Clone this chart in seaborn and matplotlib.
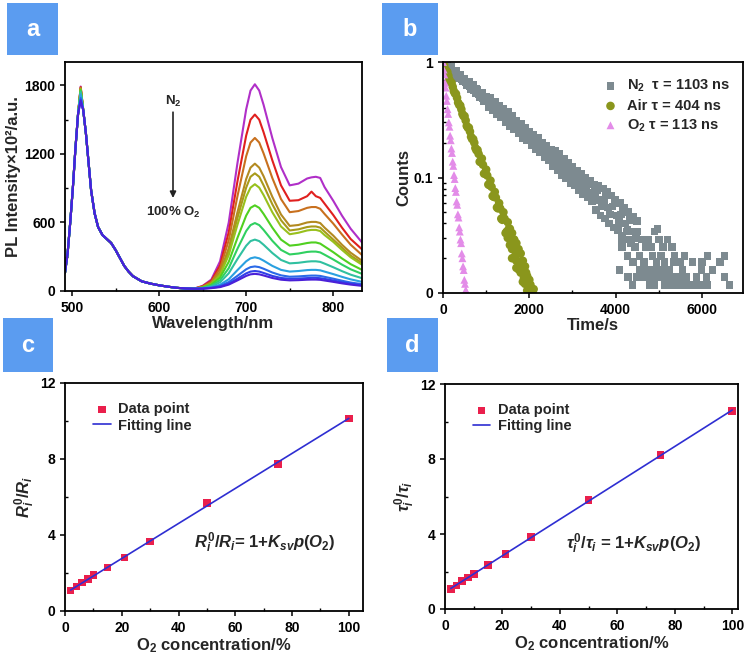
import numpy as np
import pandas as pd
import seaborn as sns
import matplotlib
matplotlib.use("Agg")
import matplotlib.pyplot as plt
from matplotlib.patches import Rectangle
from matplotlib.ticker import MultipleLocator, NullFormatter, LogLocator

# ---------------- panel a : PL spectra, N2 -> 100% O2 ----------------
left_wl = [492, 495, 498, 501, 504, 507, 510, 513, 516, 519, 522, 526, 530, 535, 540,
           545, 550, 555, 560, 565, 570, 580, 590, 600, 610, 620, 630, 640]
left_pl = [160, 330, 600, 900, 1250, 1550, None, 1580, 1380, 1130, 880, 680, 560, 490, 455,
           420, 360, 290, 220, 170, 130, 85, 65, 50, 38, 28, 22, 20]
green_peak = [1790, 1785, 1780, 1775, 1770, 1765, 1760, 1750, 1740, 1720, 1690, 1675, 1665]

right_wl = [650, 660, 670, 680, 690, 700, 705, 710, 715, 720, 730, 740, 750, 760, 770,
            775, 780, 785, 790, 800, 810, 820, 833]
red_band = [
    [45, 100, 260, 600, 1120, 1590, 1755, 1810, 1755, 1630, 1340, 1085, 925, 940, 985, 995, 1000, 990, 910, 790, 660, 545, 425],
    [42, 90, 225, 515, 960, 1360, 1500, 1545, 1500, 1390, 1145, 925, 790, 795, 830, 870, 830, 815, 765, 665, 555, 455, 365],
    [38, 80, 195, 445, 830, 1180, 1300, 1340, 1300, 1205, 990, 805, 690, 700, 728, 735, 735, 720, 675, 590, 495, 405, 315],
    [35, 70, 165, 375, 690, 980, 1080, 1115, 1080, 1005, 825, 670, 570, 578, 600, 605, 605, 595, 555, 485, 405, 335, 265],
    [33, 66, 155, 345, 640, 905, 1000, 1030, 1000, 925, 760, 620, 530, 540, 560, 565, 565, 555, 520, 450, 380, 310, 245],
    [32, 62, 140, 315, 580, 825, 905, 935, 905, 840, 690, 565, 497, 510, 530, 535, 535, 525, 490, 430, 360, 295, 230],
    [30, 55, 118, 255, 465, 660, 728, 750, 728, 675, 555, 450, 397, 405, 420, 425, 425, 415, 390, 340, 285, 235, 185],
    [28, 48, 95, 200, 370, 525, 577, 595, 577, 535, 440, 360, 320, 328, 342, 345, 345, 338, 318, 276, 231, 190, 150],
    [26, 40, 76, 155, 280, 396, 437, 450, 437, 405, 333, 272, 242, 247, 257, 260, 260, 255, 240, 208, 174, 143, 112],
    [24, 33, 55, 103, 183, 260, 286, 295, 286, 266, 220, 185, 170, 175, 183, 185, 185, 181, 170, 148, 124, 102, 80],
    [22, 29, 44, 78, 133, 190, 209, 215, 209, 195, 162, 137, 125, 128, 133, 135, 135, 132, 124, 108, 90, 74, 60],
    [21, 27, 38, 64, 108, 154, 170, 175, 170, 158, 132, 114, 107, 109, 113, 115, 115, 112, 106, 92, 77, 64, 52],
    [20, 25, 34, 56, 93, 132, 146, 150, 146, 136, 114, 99, 93, 95, 99, 100, 100, 98, 92, 80, 67, 56, 45],
]
spec_colors = ["#b02fc8", "#e0201e", "#c8701e", "#b38a20", "#a89a1a", "#98c01c", "#50d020",
               "#30d060", "#30c0a0", "#2aa0e0", "#2a6ae8", "#3040e8", "#4a20d8"]

# ---------------- panel b : lifetime decays ----------------
n2_t = [0, 50, 100, 150, 200, 250, 300, 350, 400, 450, 500, 550, 600, 650, 700, 750, 800, 850, 900, 950, 1000,
        1050, 1100, 1150, 1200, 1250, 1300, 1350, 1400, 1450, 1500, 1550, 1600, 1650, 1700, 1750, 1800, 1850, 1900, 1950, 2000,
        2050, 2100, 2150, 2200, 2250, 2300, 2350, 2400, 2450, 2500,
        2550, 2600, 2650, 2700, 2750, 2800, 2850, 2900, 2950, 3000, 3050, 3100, 3150, 3200, 3250, 3300, 3350, 3400, 3450, 3500,
        3550, 3600, 3650, 3700, 3750, 3800, 3850, 3900, 3950, 4000, 4050, 4100, 4150, 4200, 4250, 4300, 4350, 4400, 4450, 4500,
        25, 75, 125, 175, 225, 275, 325, 375, 425, 475, 525, 575, 625, 675, 725, 775, 825, 875, 925, 975,
        1025, 1075, 1125, 1175, 1225, 1275, 1325, 1375, 1425, 1475, 1525, 1575, 1625, 1675, 1725, 1775, 1825, 1875, 1925, 1975,
        2025, 2125, 2225, 2325, 2425, 2525, 2625, 2725, 2825, 2925, 3025, 3125, 3225, 3325, 3425, 3525, 3625, 3725, 3825,
        3925, 4025, 4125, 4225, 4325, 4425,
        2075, 2175, 2275, 2375, 2475, 2575, 2675, 2775, 2875, 2975, 3075, 3175, 3275, 3375, 3475, 3575, 3675, 3775, 3875,
        3975, 4075, 4175, 4275, 4375, 4475,
        4390, 4800, 4900, 5150, 5250, 5350, 5450, 5550, 5650, 5750, 5850, 5950, 6130, 6640,
        4280, 4500, 4600, 4700, 4800, 4900, 5000, 5100, 5200, 5300, 5400, 5500, 5640, 5870, 6100, 6520,
        4090, 4560, 4660, 4760, 4860, 4960, 5060, 5160, 5250, 5550, 5990, 6240,
        4400, 4650, 4950, 5130, 5350, 5500, 5780, 6000, 6420,
        4277, 4550, 4850, 5050, 5364, 5595, 6127, 6520,
        4150, 4450, 4700, 4832, 5100, 5300,
        4139, 4350, 4600, 4750, 5000, 5202,
        4250, 4500, 4900, 4971]
n2_y = [1.00, 0.93, 0.965, 0.86, 0.90, 0.79, 0.84, 0.73, 0.78, 0.68, 0.72, 0.63, 0.67, 0.58, 0.63, 0.54, 0.58, 0.50, 0.54, 0.46, 0.50,
        0.41, 0.49, 0.38, 0.45, 0.35, 0.42, 0.33, 0.39, 0.30, 0.37, 0.28, 0.34, 0.26, 0.31, 0.24, 0.29, 0.22, 0.27, 0.21, 0.25,
        0.19, 0.235, 0.175, 0.22, 0.165, 0.20, 0.15, 0.19, 0.14, 0.175,
        0.125, 0.17, 0.115, 0.16, 0.105, 0.145, 0.098, 0.135, 0.09, 0.125, 0.085, 0.115, 0.078, 0.108, 0.072, 0.10, 0.067, 0.093, 0.062, 0.087,
        0.052, 0.085, 0.047, 0.08, 0.044, 0.075, 0.04, 0.07, 0.037, 0.064, 0.035, 0.06, 0.031, 0.055, 0.029, 0.05, 0.027, 0.046, 0.025, 0.042,
        0.97, 0.95, 0.90, 0.88, 0.83, 0.82, 0.77, 0.76, 0.715, 0.71, 0.665, 0.66, 0.615, 0.61, 0.57, 0.59, 0.53, 0.525, 0.49, 0.49,
        0.455, 0.455, 0.42, 0.42, 0.39, 0.39, 0.36, 0.36, 0.335, 0.34, 0.31, 0.31, 0.29, 0.29, 0.27, 0.265, 0.25, 0.25, 0.23, 0.232,
        0.215, 0.21, 0.185, 0.18, 0.16, 0.155, 0.138, 0.133, 0.118, 0.115, 0.10, 0.099, 0.087, 0.085, 0.074, 0.075, 0.064, 0.064, 0.055,
        0.056, 0.047, 0.048, 0.04, 0.043, 0.034,
        0.20, 0.21, 0.17, 0.185, 0.15, 0.158, 0.125, 0.14, 0.105, 0.12, 0.092, 0.105, 0.08, 0.092, 0.066, 0.078, 0.056, 0.07, 0.048,
        0.06, 0.041, 0.052, 0.035, 0.046, 0.03,
        0.0117, 0.0117, 0.0117, 0.0117, 0.0117, 0.0117, 0.0117, 0.0117, 0.0117, 0.0117, 0.0117, 0.0117, 0.0117, 0.0117,
        0.0137, 0.0137, 0.0137, 0.0137, 0.0137, 0.0137, 0.0137, 0.0137, 0.0137, 0.0137, 0.0137, 0.0137, 0.0137, 0.0137, 0.0137, 0.0137,
        0.0158, 0.0158, 0.0158, 0.0158, 0.0158, 0.0158, 0.0158, 0.0158, 0.0158, 0.0158, 0.0158, 0.0158,
        0.0185, 0.0185, 0.0185, 0.0185, 0.0185, 0.0185, 0.0185, 0.0185, 0.0185,
        0.021, 0.021, 0.021, 0.021, 0.021, 0.021, 0.021, 0.021,
        0.025, 0.025, 0.025, 0.025, 0.025, 0.025,
        0.029, 0.029, 0.029, 0.029, 0.029, 0.029,
        0.034, 0.034, 0.034, 0.036]

air_t = [0, 50, 100, 150, 200, 250, 300, 350, 400, 450, 500, 550, 600, 650, 700, 750, 800, 850, 900, 950, 1000,
         1050, 1100, 1150, 1200, 1250, 1300, 1350, 1400, 1450, 1500, 1550, 1600, 1650, 1700, 1750, 1800, 1850, 1900,
         1950, 2000, 2050, 2100,
         25, 75, 125, 175, 225, 275, 325, 375, 425, 475, 525, 575, 625, 675, 725, 775, 825, 875, 925, 975,
         1025, 1075, 1125, 1175, 1225, 1275, 1325, 1375, 1425, 1475, 1525, 1575, 1625, 1675, 1725, 1775, 1825, 1875,
         1925, 1975, 2025, 2075,
         1500, 1550, 1600, 1650, 1700, 1750, 1800, 1850, 1900, 2000, 1950, 1700, 1600]
air_y = [1.0, 0.87, 0.82, 0.70, 0.66, 0.56, 0.53, 0.445, 0.42, 0.355, 0.34, 0.28, 0.27, 0.225, 0.215, 0.18, 0.173, 0.137,
         0.146, 0.108, 0.117, 0.087, 0.094, 0.069, 0.075, 0.055, 0.06, 0.044, 0.05, 0.033, 0.041, 0.026, 0.033, 0.02,
         0.027, 0.016, 0.022, 0.0125, 0.017, 0.0105, 0.013, 0.0102, 0.0108,
         0.95, 0.84, 0.76, 0.67, 0.61, 0.535, 0.49, 0.425, 0.39, 0.34, 0.312, 0.27, 0.25, 0.215, 0.2, 0.172, 0.16, 0.136,
         0.129, 0.108, 0.104, 0.086, 0.083, 0.068, 0.067, 0.054, 0.054, 0.043, 0.044, 0.034, 0.036, 0.027, 0.029, 0.021,
         0.024, 0.017, 0.019, 0.0135, 0.015, 0.011, 0.0118, 0.0103,
         0.03, 0.036, 0.024, 0.029, 0.019, 0.024, 0.015, 0.019, 0.012, 0.0105, 0.014, 0.0165, 0.02]

o2_t = [0, 15, 30, 45, 60, 75, 90, 105, 120, 135, 150, 165, 180, 195, 210, 225, 240, 255, 270, 285, 300,
        315, 330, 345, 360, 375, 390, 405, 420, 435, 450, 465, 480, 495, 510, 525, 540]
o2_y = [1.0, 0.86, 0.78, 0.66, 0.60, 0.51, 0.46, 0.39, 0.355, 0.30, 0.275, 0.23, 0.21, 0.178, 0.163, 0.137, 0.126,
        0.105, 0.097, 0.081, 0.075, 0.062, 0.058, 0.048, 0.045, 0.037, 0.034, 0.029, 0.027, 0.022, 0.02, 0.017,
        0.0158, 0.013, 0.012, 0.0106, 0.0104]

# ---------------- panels c / d : Stern-Volmer ----------------
o2_conc = [2, 4, 6, 8, 10, 15, 21, 30, 50, 75, 100]
ratio_R = [1.07, 1.28, 1.49, 1.67, 1.88, 2.28, 2.81, 3.65, 5.70, 7.74, 10.14]
ratio_tau = [1.08, 1.26, 1.49, 1.67, 1.87, 2.35, 2.93, 3.84, 5.81, 8.21, 10.56]

sns.set_theme(style="ticks")
plt.rcParams["font.family"] = ["Liberation Sans", "DejaVu Sans"]
plt.rcParams.update({
    "font.weight": "bold", "axes.labelweight": "bold",
    "mathtext.fontset": "custom",
    "mathtext.rm": "Liberation Sans:bold",
    "mathtext.bf": "Liberation Sans:bold",
    "mathtext.it": "Liberation Sans:bold:italic",
    "axes.linewidth": 1.3, "axes.edgecolor": "black",
    "xtick.color": "black", "ytick.color": "black",
    "xtick.major.width": 1.1, "ytick.major.width": 1.1,
    "xtick.minor.width": 1.0, "ytick.minor.width": 1.0,
    "xtick.major.size": 3.5, "ytick.major.size": 3.5,
    "xtick.minor.size": 2.0, "ytick.minor.size": 2.0,
})

fig = plt.figure(figsize=(7.5, 6.56), dpi=100)
W, H = 750.0, 656.0


def px_axes(l, t, r, b):
    return fig.add_axes([l / W, 1 - b / H, (r - l) / W, (b - t) / H])


def style(ax):
    for s in ax.spines.values():
        s.set_visible(True)
        s.set_linewidth(1.3)
    ax.tick_params(which="both", top=False, right=False, labelsize=10)
    ax.tick_params(which="major", direction="out")
    ax.tick_params(which="minor", direction="in")


def tag(l, t, r, b, letter):
    fig.add_artist(Rectangle((l / W, 1 - b / H), (r - l) / W, (b - t) / H,
                             transform=fig.transFigure, facecolor="#5b9cf0", edgecolor="none"))
    fig.text((l + r) / 2 / W, 1 - (t + b) / 2 / H, letter, color="white", fontsize=17,
             fontweight="bold", ha="center", va="center")


# panel a
ax = px_axes(65, 62, 362, 291)
rows = []
for i, (pk, rb) in enumerate(zip(green_peak, red_band)):
    vals = [pk if v is None else v for v in left_pl] + rb
    for w, v in zip(left_wl + right_wl, vals):
        rows.append({"wl": w, "pl": v, "curve": i})
spec = pd.DataFrame(rows)
sns.lineplot(data=spec, x="wl", y="pl", hue="curve", palette=spec_colors, estimator=None,
             sort=False, lw=1.5, legend=False, ax=ax)
ax.set_xlim(492, 833)
ax.set_ylim(0, 2005)
ax.xaxis.set_major_locator(MultipleLocator(100))
ax.xaxis.set_minor_locator(MultipleLocator(50))
ax.yaxis.set_major_locator(MultipleLocator(600))
ax.yaxis.set_minor_locator(MultipleLocator(300))
ax.set_xlabel("Wavelength/nm", fontsize=12, labelpad=1)
ax.set_ylabel("PL Intensity×10²/a.u.", fontsize=12, labelpad=2)
ax.annotate("", xy=(616, 790), xytext=(616, 1590),
            arrowprops=dict(arrowstyle="-|>", color="#222222", lw=1.2, mutation_scale=9))
ax.text(616, 1660, r"N$_2$", ha="center", va="center", fontsize=9.5)
ax.text(616, 690, r"100% O$_2$", ha="center", va="center", fontsize=9.5)
style(ax)

# panel b
ax = px_axes(443, 62, 743, 293)
sns.scatterplot(x=n2_t, y=n2_y, marker="s", s=30, color="#7d8a90", edgecolor="none", ax=ax,
                label=r"N$_2$  τ = 1103 ns")
sns.scatterplot(x=air_t, y=air_y, marker="o", s=38, color="#8a961c", edgecolor="none", ax=ax,
                label="Air τ = 404 ns")
sns.scatterplot(x=o2_t, y=o2_y, marker="^", s=32, color="#e38ce8", edgecolor="none", ax=ax,
                label=r"O$_2$ τ = 113 ns")
ax.set_yscale("log")
ax.set_ylim(0.01, 1.0)
ax.set_xlim(0, 6950)
ax.set_yticks([0.01, 0.1, 1])
ax.set_yticklabels(["0", "0.1", "1"])
ax.yaxis.set_minor_locator(LogLocator(base=10, subs=np.arange(2, 10)))
ax.yaxis.set_minor_formatter(NullFormatter())
ax.xaxis.set_major_locator(MultipleLocator(2000))
ax.xaxis.set_minor_locator(MultipleLocator(1000))
ax.set_xlabel("Time/s", fontsize=12, labelpad=1)
ax.set_ylabel("Counts", fontsize=12, labelpad=2)
ax.legend(loc="upper right", bbox_to_anchor=(0.99, 0.975), frameon=False, fontsize=10.5,
          handletextpad=0.1, labelspacing=0.3, borderpad=0.2, markerscale=1.0)
style(ax)

# panels c and d
for (l, t, r, b), yvals, ylab, eq, xmax, eqxy in [
        ((65, 383, 363, 611), ratio_R, r"$R_i^{0}/R_i$", r"$R_i^{0}/R_i$= 1+$K_{sv}p(O_2)$", 105, (70.5, 3.6)),
        ((445, 384, 738, 609), ratio_tau, r"$\tau_i^{0}/\tau_i$", r"$\tau_i^{0}/\tau_i$ = 1+$K_{sv}p(O_2)$", 102, (65.5, 3.5))]:
    ax = px_axes(l, t, r, b)
    sns.scatterplot(x=o2_conc, y=yvals, marker="s", s=30, color="#ea1f4c", edgecolor="none",
                    ax=ax, label="Data point", zorder=2)
    sns.regplot(x=o2_conc, y=yvals, ci=None, scatter=False, ax=ax, label="Fitting line",
                line_kws=dict(color="#2e2ed2", lw=1.2, zorder=3))
    ax.set_xlim(0, xmax)
    ax.set_ylim(0, 12)
    ax.xaxis.set_major_locator(MultipleLocator(20))
    ax.xaxis.set_minor_locator(MultipleLocator(10))
    ax.yaxis.set_major_locator(MultipleLocator(4))
    ax.yaxis.set_minor_locator(MultipleLocator(2))
    ax.set_xlabel(r"O$_2$ concentration/%", fontsize=12, labelpad=1)
    ax.set_ylabel(ylab, fontsize=12, labelpad=2)
    ax.text(eqxy[0], eqxy[1], eq, fontsize=12, ha="center", va="center")
    handles, labels = ax.get_legend_handles_labels()
    order = [labels.index("Data point"), labels.index("Fitting line")]
    ax.legend([handles[k] for k in order], [labels[k] for k in order],
              loc="upper left", bbox_to_anchor=(0.06, 0.96), frameon=False, fontsize=10.5,
              handlelength=1.2, handletextpad=0.5, labelspacing=0.15, borderpad=0.2)
    style(ax)

tag(7, 3, 58, 55, "a")
tag(382, 3, 438, 55, "b")
tag(3, 318, 53, 372, "c")
tag(387, 318, 438, 372, "d")

fig.savefig("out.png", dpi=100)
